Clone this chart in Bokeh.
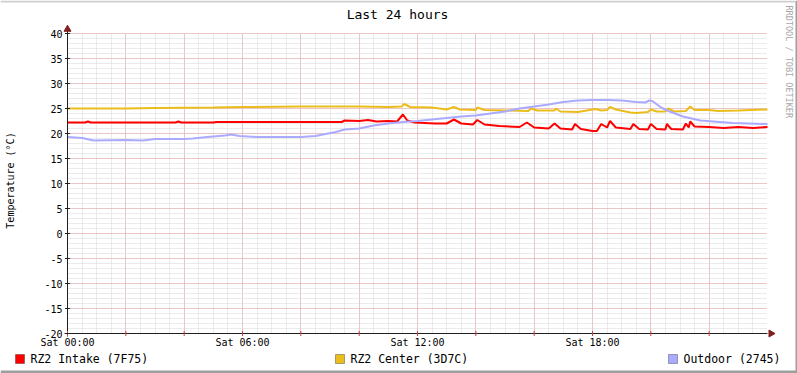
import math
from bokeh.plotting import figure
from bokeh.models import Range1d, FixedTicker, Label, BoxAnnotation, Grid
from bokeh.core.properties import value
from bokeh.embed import file_html
from bokeh.resources import INLINE

# ---------------- data (hours since Sat 00:00, degC) ----------------
intake_hours = [0, 0.6, 0.7, 0.8, 3.7, 3.8, 3.9, 5.0, 5.1, 9.4, 9.5, 10.0, 10.3, 10.6, 11.0, 11.3,
                11.5, 11.65, 11.9, 12.6, 13.0, 13.25, 13.5, 13.9, 14.05, 14.3, 14.8, 15.5, 15.75,
                16.0, 16.5, 16.7, 16.9, 17.3, 17.4, 17.6, 18.0, 18.15, 18.3, 18.5, 18.6, 18.8,
                19.3, 19.4, 19.6, 19.9, 20.0, 20.2, 20.5, 20.55, 20.7, 21.1, 21.2, 21.3, 21.35,
                21.5, 22.0, 22.5, 23.0, 23.5, 24.0]
intake_temp = [22.2, 22.2, 22.4, 22.2, 22.2, 22.4, 22.2, 22.2, 22.3, 22.3, 22.6, 22.5, 22.7, 22.4, 22.5, 22.4,
               23.8, 22.6, 22.2, 22.0, 22.0, 22.8, 22.0, 21.8, 22.7, 21.8, 21.5, 21.3, 22.2,
               21.2, 21.0, 22.0, 21.0, 20.8, 21.9, 20.9, 20.5, 20.5, 21.9, 21.2, 22.5, 21.2,
               20.9, 21.9, 20.9, 20.8, 21.9, 20.9, 20.8, 21.9, 20.9, 20.8, 22.0, 21.2, 22.4,
               21.4, 21.3, 21.1, 21.3, 21.1, 21.3]

center_hours = [0, 2.0, 3.0, 5.0, 6.0, 8.0, 9.0, 10.0, 11.0, 11.45, 11.55, 11.75, 12.5, 13.0, 13.25,
                13.45, 14.0, 14.05, 14.3, 15.0, 15.8, 15.9, 16.1, 16.7, 16.75, 16.9, 17.5, 18.1,
                18.3, 18.5, 18.6, 18.8, 19.3, 19.5, 19.9, 20.0, 20.2, 20.5, 20.6, 20.8, 21.2,
                21.35, 21.5, 22.0, 22.3, 23.0, 24.0]
center_temp = [25.0, 25.0, 25.1, 25.2, 25.3, 25.4, 25.4, 25.4, 25.3, 25.4, 25.9, 25.3, 25.2, 24.8, 25.3,
               24.8, 24.7, 25.2, 24.7, 24.6, 24.5, 25.0, 24.6, 24.6, 25.0, 24.4, 24.3, 24.9,
               24.6, 24.7, 25.3, 24.8, 24.2, 24.1, 24.3, 24.8, 24.4, 24.4, 25.0, 24.4, 24.5,
               25.4, 24.7, 24.7, 24.5, 24.6, 24.8]

outdoor_hours = [0, 0.5, 0.9, 2.0, 2.6, 3.0, 4.0, 4.3, 4.8, 5.4, 5.6, 5.9, 6.5, 7.0, 8.0, 8.5, 9.2,
                 9.5, 10.0, 10.5, 11.0, 11.5, 12.0, 12.5, 13.0, 13.5, 14.0, 14.5, 15.0, 15.5, 16.0,
                 16.5, 17.0, 17.5, 18.0, 18.5, 19.0, 19.5, 19.8, 19.95, 20.05, 20.35, 20.6, 21.1,
                 21.7, 22.8, 24.0]
outdoor_temp = [19.3, 19.1, 18.6, 18.7, 18.6, 18.9, 18.9, 19.0, 19.3, 19.6, 19.8, 19.5, 19.3, 19.3, 19.3, 19.5, 20.3,
                20.8, 21.0, 21.6, 22.0, 22.3, 22.5, 22.8, 23.1, 23.4, 23.6, 24.0, 24.4, 25.0, 25.4,
                25.8, 26.3, 26.6, 26.7, 26.7, 26.6, 26.3, 26.2, 26.6, 26.5, 25.2, 24.5, 23.4,
                22.6, 22.1, 21.9]

series_names = ["RZ2 Intake (7F75)", "RZ2 Center (3D7C)", "Outdoor (2745)"]
series_colors = ["#FF0000", "#EBBD1C", "#AAAAFF"]

x_label_ticks = [0, 6, 12, 18]
x_labels = ["Sat 00:00", "Sat 06:00", "Sat 12:00", "Sat 18:00"]
x_major_grid = list(range(0, 24, 2))
x_minor_grid = [h / 2 for h in range(1, 48)]
y_ticks = list(range(-20, 41, 5))
y_labels = [str(v) for v in y_ticks]
y_minor = list(range(-20, 41))

FONT = "DejaVu Sans Mono"
W, H = 797, 373
X0, PXH = 67, 29.1667      # page x of 00:00, pixels per hour
Y0, PXU = 333, 5.0         # page y of -20, pixels per degree

# the plotting frame covers the whole canvas; ranges chosen so the chart area sits where it should
p = figure(width=W, height=H, output_backend="svg", toolbar_location=None,
           x_axis_type=None, y_axis_type=None,
           x_range=Range1d(-X0 / PXH, (W - X0) / PXH),
           y_range=Range1d(-20 - (H - Y0) / PXU, -20 + Y0 / PXU),
           min_border=0)
p.outline_line_color = None
p.background_fill_color = "white"
p.border_fill_color = "white"

# grids
xg = Grid(dimension=0, ticker=FixedTicker(ticks=x_major_grid, minor_ticks=x_minor_grid),
          grid_line_color="#E8A0A0", grid_line_dash="1 1",
          minor_grid_line_color="#D6D6D6", minor_grid_line_dash="1 1", cross_bounds=(-20, 40))
yg = Grid(dimension=1, ticker=FixedTicker(ticks=y_ticks, minor_ticks=y_minor),
          grid_line_color="#E8A0A0", grid_line_dash="1 1",
          minor_grid_line_color="#D6D6D6", minor_grid_line_dash="1 1", cross_bounds=(0, 24))
p.add_layout(xg)
p.add_layout(yg)

# data lines
for hrs, vals, col in [(intake_hours, intake_temp, series_colors[0]),
                       (center_hours, center_temp, series_colors[1]),
                       (outdoor_hours, outdoor_temp, series_colors[2])]:
    p.line(hrs, vals, line_color=col, line_width=2)

# axis lines, ticks and arrows
p.line([-0.1, 24.0], [-20, -20], line_color="#1F1F1F", line_width=1)
p.line([0, 0], [-20.6, 40.6], line_color="#1F1F1F", line_width=1)
p.scatter(x_major_grid, [-20] * len(x_major_grid), marker="dash", angle=math.pi / 2, size=5,
          line_color="#C84040")
p.scatter([0] * len(y_ticks), y_ticks, marker="dash", size=5, line_color="#1F1F1F")
p.scatter([24.12], [-20], marker="triangle", size=7, angle=-math.pi / 2,
          fill_color="#801F1F", line_color="#801F1F")
p.scatter([0], [40.85], marker="triangle", size=7,
          fill_color="#801F1F", line_color="#801F1F")

# tick labels
p.text(x=[0] * len(y_ticks), y=y_ticks, text=y_labels, x_offset=-5,
       text_font=value(FONT), text_font_size=value("10px"), text_align="right",
       text_baseline="middle", text_color="black")
p.text(x=x_label_ticks, y=[-20] * len(x_label_ticks), text=x_labels, y_offset=8.5,
       text_font=value(FONT), text_font_size=value("10px"), text_align="center",
       text_baseline="middle", text_color="black")

# legend: coloured squares with black border and their labels
legend_sq = [15, 335, 668]
for name, col, sx in zip(series_names, series_colors, legend_sq):
    p.add_layout(BoxAnnotation(left=sx, right=sx + 9, bottom=H - 363, top=H - 354,
                               left_units="screen", right_units="screen",
                               top_units="screen", bottom_units="screen",
                               fill_color=col, fill_alpha=1, line_color="black",
                               line_width=1, level="overlay"))
    p.add_layout(Label(x=sx + 15, y=H - 358.5, x_units="screen", y_units="screen", text=name,
                       text_font=FONT, text_font_size="11.5px", text_align="left",
                       text_baseline="middle", text_color="black"))

# texts (screen units from the canvas bottom-left)
p.add_layout(Label(x=397, y=H - 14, x_units="screen", y_units="screen", text="Last 24 hours",
                   text_font=FONT, text_font_size="13px", text_align="center",
                   text_baseline="middle", text_color="black"))
p.add_layout(Label(x=9.5, y=H - 180, x_units="screen", y_units="screen", text="Temperature (°C)",
                   angle=math.pi / 2, text_font=FONT, text_font_size="10px", text_align="center",
                   text_baseline="middle", text_color="black"))
p.add_layout(Label(x=788.5, y=H - 5, x_units="screen", y_units="screen", text="RRDTOOL / TOBI OETIKER",
                   angle=-math.pi / 2, text_font=FONT, text_font_size="8.5px", text_align="left",
                   text_baseline="middle", text_color="#A8A8A8"))

# shaded canvas border (top light, bottom/right dark)
for l, r_, b, t, c in [(0, W, 0, 3, "#9E9E9E"), (W - 2, W, 0, H, "#9E9E9E"),
                       (0, W - 2, H - 2, H, "#CFCFCF")]:
    p.add_layout(BoxAnnotation(left=l, right=r_, bottom=b, top=t,
                               left_units="screen", right_units="screen",
                               top_units="screen", bottom_units="screen",
                               fill_color=c, fill_alpha=1, line_color=None, level="overlay"))

open("out.html", "w").write(file_html(p, INLINE))
